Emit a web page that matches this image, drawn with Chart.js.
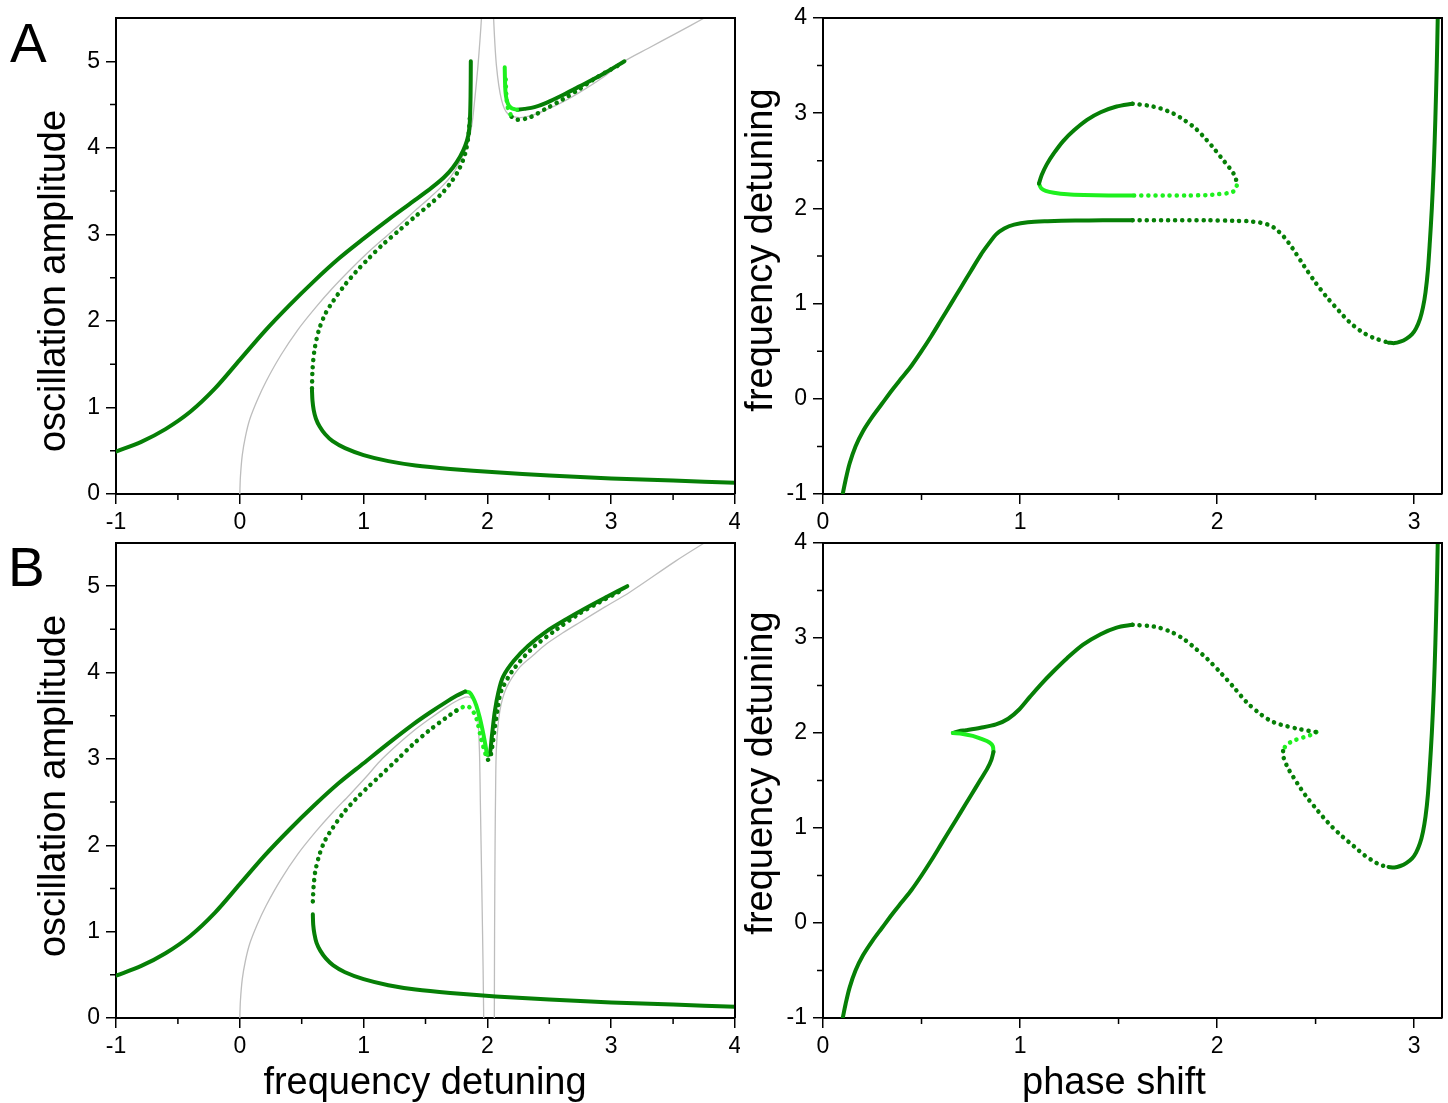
<!DOCTYPE html>
<html><head><meta charset="utf-8">
<script src="https://cdn.jsdelivr.net/npm/chart.js@4.4.1/dist/chart.umd.min.js"></script>
<style>
body{margin:0;background:#fff;width:1448px;height:1103px;position:relative;overflow:hidden;font-family:"Liberation Sans",Arial,sans-serif;}
canvas{position:absolute;}
.t{position:absolute;white-space:nowrap;color:#000;line-height:1;font-family:"Liberation Sans",Arial,sans-serif;}
.rot{transform:translate(-50%,-50%) rotate(-90deg);}
.ctr{transform:translateX(-50%);}
</style></head><body>
<canvas id="cAL" width="740" height="540" style="left:0;top:0;width:740px;height:540px"></canvas>
<canvas id="cAR" width="708" height="540" style="left:740px;top:0;width:708px;height:540px"></canvas>
<canvas id="cBL" width="740" height="583" style="left:0;top:520px;width:740px;height:583px"></canvas>
<canvas id="cBR" width="708" height="583" style="left:740px;top:520px;width:708px;height:583px"></canvas>
<div class="t" style="left:10px;top:16px;font-size:55px">A</div>
<div class="t" style="left:8px;top:540px;font-size:55px">B</div>
<div class="t rot" style="left:52px;top:281px;font-size:38px">oscillation amplitude</div>
<div class="t rot" style="left:52px;top:786px;font-size:38px">oscillation amplitude</div>
<div class="t rot" style="left:759px;top:250px;font-size:38px">frequency detuning</div>
<div class="t rot" style="left:759px;top:773px;font-size:38px">frequency detuning</div>
<div class="t ctr" style="left:425px;top:1062px;font-size:38px">frequency detuning</div>
<div class="t ctr" style="left:1114px;top:1062px;font-size:38px">phase shift</div>
<script>
// ---------- tick values ----------
const xRangeLeft = [-1, 4];
const yRangeLeft = [0, 5.5];
const xRangeRight = [0, Math.PI];
const yRangeRight = [-1, 4];
const xMinorLeft = [-0.5, 0.5, 1.5, 2.5, 3.5];
const yMinorLeft = [0.5, 1.5, 2.5, 3.5, 4.5];
const xMinorRight = [0.5, 1.5, 2.5];
const yMinorRight = [-0.5, 0.5, 1.5, 2.5, 3.5];

// ---------- panel A, left: amplitude vs detuning ----------
const aLeftGrayL = [[0,0],[0.005,0.2],[0.02,0.45],[0.045,0.66],[0.08,0.86],[0.14,1.08],[0.212,1.3],[0.33,1.6],[0.47,1.9],[0.615,2.16],[0.75,2.38],[0.884,2.58],[1.02,2.77],[1.153,2.94],[1.29,3.11],[1.42,3.28],[1.54,3.43],[1.637,3.56],[1.71,3.68],[1.771,3.82],[1.82,3.97],[1.852,4.10],[1.878,4.3],[1.898,4.56],[1.924,4.95],[1.952,5.5],[1.96,5.8]];
const aLeftGrayR = [[2.045,5.8],[2.05,5.5],[2.073,4.95],[2.113,4.56],[2.166,4.39],[2.26,4.35],[2.37,4.38],[2.476,4.44],[2.61,4.53],[2.745,4.64],[2.92,4.8],[3.107,5.0],[3.3,5.15],[3.52,5.32],[3.752,5.5],[3.8,5.54]];
const aLeftUpper = [[-1,0.49],[-0.8,0.6],[-0.6,0.75],[-0.4,0.95],[-0.2,1.22],[0,1.55],[0.2,1.88],[0.4,2.18],[0.6,2.46],[0.8,2.72],[1.0,2.95],[1.2,3.17],[1.4,3.38],[1.55,3.54],[1.65,3.66],[1.72,3.77],[1.78,3.90],[1.82,4.02],[1.845,4.14],[1.858,4.3],[1.864,4.6],[1.866,5.0]];
const aLeftUnstable = [[0.583,1.22],[0.588,1.45],[0.605,1.68],[0.64,1.9],[0.69,2.08],[0.75,2.22],[0.84,2.4],[0.94,2.57],[1.04,2.72],[1.153,2.88],[1.29,3.05],[1.42,3.21],[1.53,3.34],[1.637,3.48],[1.71,3.61],[1.771,3.75],[1.82,3.93],[1.848,4.15],[1.86,4.4]];
const aLeftLower = [[0.583,1.20],[0.587,1.08],[0.597,0.97],[0.615,0.87],[0.645,0.78],[0.69,0.69],[0.75,0.61],[0.85,0.53],[1.0,0.45],[1.2,0.38],[1.42,0.33],[1.7,0.29],[2.067,0.25],[2.5,0.215],[3.0,0.18],[3.5,0.155],[4.0,0.13]];
const aLeftRightLight = [[2.14,4.93],[2.142,4.78],[2.146,4.65],[2.155,4.56],[2.172,4.49],[2.2,4.455],[2.24,4.44]];
const aLeftRightDark = [[2.24,4.44],[2.3,4.45],[2.38,4.47],[2.476,4.52],[2.61,4.61],[2.745,4.71],[2.93,4.85],[3.107,5.0]];
const aLeftRightLightDots = [[2.148,4.79],[2.152,4.62],[2.165,4.46],[2.195,4.36]];
const aLeftRightDots = [[2.195,4.36],[2.24,4.325],[2.34,4.35],[2.47,4.45],[2.61,4.56],[2.745,4.68],[2.879,4.81],[3.093,4.98]];

// ---------- panel B, left ----------
const bLeftGrayL = [[0,0],[0.005,0.2],[0.02,0.45],[0.045,0.66],[0.08,0.86],[0.14,1.08],[0.212,1.3],[0.33,1.6],[0.47,1.9],[0.615,2.16],[0.75,2.38],[0.884,2.58],[1.02,2.79],[1.13,2.97],[1.27,3.16],[1.40,3.32],[1.54,3.47],[1.669,3.60],[1.75,3.67],[1.82,3.715],[1.865,3.71],[1.895,3.66],[1.913,3.57],[1.924,3.45],[1.933,3.2],[1.938,2.97],[1.943,2.51],[1.955,1.5],[1.965,0.6],[1.97,0]];
const bLeftGrayR = [[2.056,0],[2.058,1.0],[2.062,2.0],[2.066,2.6],[2.073,3.13],[2.10,3.55],[2.153,3.82],[2.26,4.06],[2.37,4.2],[2.476,4.33],[2.61,4.46],[2.745,4.58],[2.95,4.76],[3.15,4.93],[3.52,5.29],[3.752,5.5],[3.8,5.54]];
const bLeftUpper = [[-1,0.49],[-0.8,0.6],[-0.6,0.75],[-0.4,0.95],[-0.2,1.22],[0,1.55],[0.2,1.88],[0.4,2.18],[0.6,2.46],[0.8,2.72],[1.0,2.95],[1.2,3.18],[1.40,3.40],[1.54,3.54],[1.669,3.66],[1.75,3.73],[1.82,3.78]];
const bLeftLight = [[1.82,3.78],[1.855,3.77],[1.884,3.71],[1.91,3.62],[1.938,3.48],[1.96,3.34],[1.978,3.21],[1.997,3.05]];
const bLeftRightDark = [[1.997,3.05],[2.018,3.05],[2.035,3.25],[2.06,3.55],[2.09,3.78],[2.126,3.95],[2.21,4.13],[2.33,4.31],[2.48,4.48],[2.64,4.62],[2.80,4.75],[2.97,4.88],[3.13,5.0]];
const bLeftUnstable = [[0.59,1.35],[0.596,1.52],[0.61,1.70],[0.645,1.9],[0.69,2.06],[0.75,2.2],[0.84,2.38],[0.94,2.54],[1.04,2.68],[1.13,2.8],[1.27,2.99],[1.40,3.17],[1.53,3.33],[1.669,3.48],[1.75,3.56]];
const bLeftLightDots = [[1.75,3.56],[1.8,3.6],[1.84,3.61],[1.875,3.57],[1.911,3.47],[1.95,3.23],[1.986,3.05],[2.005,2.99]];
const bLeftRightDots = [[2.005,2.99],[2.02,3.0],[2.04,3.15],[2.06,3.36],[2.085,3.6],[2.11,3.78],[2.207,4.03],[2.37,4.29],[2.55,4.49],[2.74,4.68],[2.9,4.81],[3.07,4.94]];
const bLeftLower = [[0.59,1.20],[0.593,1.08],[0.603,0.97],[0.62,0.87],[0.65,0.78],[0.695,0.69],[0.755,0.61],[0.85,0.53],[1.0,0.45],[1.2,0.38],[1.42,0.33],[1.7,0.29],[2.067,0.25],[2.5,0.215],[3.0,0.18],[3.5,0.155],[4.0,0.13]];

// ---------- panel A, right: detuning vs phase shift ----------
const aRightMain = [[0.1,-1],[0.115,-0.85],[0.135,-0.68],[0.165,-0.5],[0.203,-0.34],[0.25,-0.19],[0.3,-0.05],[0.35,0.09],[0.4,0.22],[0.45,0.35],[0.5,0.5],[0.55,0.66],[0.6,0.83],[0.65,1.0],[0.7,1.17],[0.75,1.34],[0.8,1.51],[0.845,1.64],[0.88,1.73],[0.92,1.79],[0.97,1.83],[1.04,1.855],[1.14,1.865],[1.28,1.872],[1.42,1.875],[1.571,1.875]];
const aRightMainDots = [[1.571,1.875],[1.75,1.875],[1.95,1.875],[2.085,1.87],[2.16,1.865],[2.22,1.85],[2.27,1.82],[2.30,1.78],[2.34,1.70],[2.38,1.59],[2.44,1.40],[2.5,1.22],[2.56,1.06],[2.62,0.92],[2.67,0.81],[2.73,0.71],[2.794,0.64],[2.87,0.59]];
const aRightRise = [[2.87,0.59],[2.9,0.585],[2.93,0.6],[2.96,0.63],[2.99,0.68],[3.01,0.74],[3.03,0.84],[3.045,0.96],[3.058,1.12],[3.07,1.35],[3.08,1.65],[3.09,2.0],[3.1,2.45],[3.108,2.95],[3.115,3.5],[3.12,4.0],[3.122,4.3]];
const aRightLoop = [[1.096,2.26],[1.11,2.35],[1.135,2.46],[1.172,2.58],[1.22,2.71],[1.274,2.82],[1.34,2.93],[1.409,3.01],[1.49,3.07],[1.571,3.10]];
const aRightLoopDots = [[1.571,3.10],[1.65,3.08],[1.713,3.05],[1.775,3.0],[1.832,2.93],[1.885,2.85],[1.933,2.75],[1.98,2.64],[2.026,2.52],[2.065,2.42],[2.093,2.33],[2.10,2.24]];
const aRightLoopLightDots = [[2.10,2.24],[2.09,2.19],[2.068,2.165],[2.0,2.148],[1.95,2.14],[1.85,2.135],[1.747,2.135],[1.571,2.135]];
const aRightLoopLight = [[1.571,2.135],[1.45,2.135],[1.324,2.14],[1.24,2.148],[1.172,2.165],[1.13,2.185],[1.108,2.21],[1.096,2.26]];

// ---------- panel B, right ----------
const bRightMain = [[0.1,-1],[0.115,-0.85],[0.135,-0.68],[0.165,-0.5],[0.203,-0.34],[0.25,-0.19],[0.3,-0.05],[0.35,0.09],[0.4,0.22],[0.45,0.35],[0.5,0.5],[0.55,0.66],[0.6,0.83],[0.65,1.0],[0.7,1.17],[0.75,1.34],[0.8,1.51],[0.835,1.63],[0.855,1.72],[0.865,1.80]];
const bRightLight = [[0.865,1.80],[0.862,1.86],[0.845,1.90],[0.80,1.94],[0.76,1.97],[0.71,1.99],[0.659,2.00]];
const bRightUpper = [[0.659,2.00],[0.69,2.02],[0.726,2.03],[0.80,2.055],[0.878,2.09],[0.94,2.15],[0.997,2.25],[1.05,2.38],[1.105,2.51],[1.17,2.65],[1.24,2.79],[1.32,2.93],[1.409,3.04],[1.49,3.11],[1.571,3.14]];
const bRightDots = [[1.571,3.14],[1.68,3.12],[1.76,3.07],[1.83,2.99],[1.89,2.89],[1.95,2.78],[2.02,2.63],[2.085,2.48],[2.152,2.32],[2.22,2.20],[2.27,2.13],[2.32,2.09],[2.42,2.04],[2.504,2.01]];
const bRightLightDots = [[2.504,2.01],[2.49,1.99],[2.44,1.955],[2.389,1.92],[2.35,1.87],[2.335,1.81]];
const bRightDots2 = [[2.335,1.81],[2.338,1.74],[2.36,1.63],[2.389,1.53],[2.42,1.43],[2.457,1.32],[2.50,1.21],[2.54,1.11],[2.58,1.02],[2.625,0.93],[2.67,0.85],[2.71,0.78],[2.75,0.71],[2.794,0.65],[2.83,0.61],[2.87,0.59]];
const bRightRise = [[2.87,0.59],[2.9,0.585],[2.93,0.6],[2.96,0.63],[2.99,0.68],[3.01,0.74],[3.03,0.84],[3.045,0.96],[3.058,1.12],[3.07,1.35],[3.08,1.65],[3.09,2.0],[3.1,2.45],[3.108,2.95],[3.115,3.5],[3.12,4.0],[3.122,4.3]];

// ---------- styles ----------
const DARK = '#067f06';
const LIGHT = '#1ef01e';
const GRAY = '#bdbdbd';
const toXY = a => a.map(p => ({x: p[0], y: p[1]}));
function solid(d, c){ return {data: toXY(d), showLine: true, borderColor: c, backgroundColor: c, borderWidth: 4, pointRadius: 0, tension: 0.3, borderCapStyle: 'round', borderJoinStyle: 'round', order: 1}; }
function dots(d, c){ return {data: toXY(d), showLine: true, borderColor: c, backgroundColor: c, borderWidth: 4.5, borderDash: [0.1, 7], borderCapStyle: 'round', pointRadius: 0, tension: 0.3, order: 2}; }
function thin(d){ return {data: toXY(d), showLine: true, borderColor: GRAY, backgroundColor: GRAY, borderWidth: 1.3, pointRadius: 0, tension: 0.3, order: 3}; }

Chart.defaults.font.family = '"Liberation Sans", Arial, sans-serif';
Chart.defaults.color = '#000';

const frameAndMinor = {
  id: 'frameAndMinor',
  afterDraw(chart, args, opts){
    const ctx = chart.ctx, a = chart.chartArea, xs = chart.scales.x, ys = chart.scales.y;
    ctx.save();
    ctx.strokeStyle = '#000';
    ctx.lineWidth = 1.5;
    ctx.beginPath();
    for (const v of opts.xMinor){ const px = xs.getPixelForValue(v); ctx.moveTo(px, a.bottom); ctx.lineTo(px, a.bottom + 6); }
    for (const v of opts.yMinor){ const py = ys.getPixelForValue(v); ctx.moveTo(a.left, py); ctx.lineTo(a.left - 6, py); }
    ctx.stroke();
    ctx.lineWidth = 2;
    ctx.beginPath();
    ctx.moveTo(a.left, a.top); ctx.lineTo(a.right, a.top); ctx.lineTo(a.right, a.bottom);
    ctx.stroke();
    ctx.restore();
  }
};

function makeChart(id, datasets, xr, yr, xMinor, yMinor, dim){
  return new Chart(document.getElementById(id), {
    type: 'scatter',
    data: {datasets},
    options: {
      responsive: false, animation: false,
      layout: {padding: {left: 0, right: dim.pr, top: dim.pt, bottom: 0}},
      plugins: {legend: {display: false}, tooltip: {enabled: false}, frameAndMinor: {xMinor, yMinor}},
      scales: {
        x: {type: 'linear', min: xr[0], max: xr[1],
          ticks: {stepSize: 1, includeBounds: false, padding: 5, font: {size: 23}, color: '#000', maxRotation: 0, autoSkip: false},
          grid: {drawOnChartArea: false, drawTicks: true, tickLength: 10, color: '#000', lineWidth: 1.5},
          border: {display: true, color: '#000', width: 2},
          afterFit(s){ s.height = dim.xh; s.paddingLeft = 0; s.paddingRight = 0; }},
        y: {type: 'linear', min: yr[0], max: yr[1],
          ticks: {stepSize: 1, includeBounds: false, padding: 6, font: {size: 23}, color: '#000', autoSkip: false},
          grid: {drawOnChartArea: false, drawTicks: true, tickLength: 10, color: '#000', lineWidth: 1.5},
          border: {display: true, color: '#000', width: 2},
          afterFit(s){ s.width = dim.yw; s.paddingTop = 0; s.paddingBottom = 0; }}
      }
    },
    plugins: [frameAndMinor]
  });
}

makeChart('cAL', [
  solid(aLeftUpper, DARK), solid(aLeftLower, DARK), solid(aLeftRightLight, LIGHT), solid(aLeftRightDark, DARK),
  dots(aLeftUnstable, DARK), dots(aLeftRightLightDots, LIGHT), dots(aLeftRightDots, DARK),
  thin(aLeftGrayL), thin(aLeftGrayR)
], xRangeLeft, yRangeLeft, xMinorLeft, yMinorLeft, {pr: 5, pt: 18, xh: 46, yw: 116});

makeChart('cBL', [
  solid(bLeftUpper, DARK), solid(bLeftLight, LIGHT), solid(bLeftRightDark, DARK), solid(bLeftLower, DARK),
  dots(bLeftUnstable, DARK), dots(bLeftLightDots, LIGHT), dots(bLeftRightDots, DARK),
  thin(bLeftGrayL), thin(bLeftGrayR)
], xRangeLeft, yRangeLeft, xMinorLeft, yMinorLeft, {pr: 5, pt: 23, xh: 85, yw: 116});

makeChart('cAR', [
  solid(aRightMain, DARK), solid(aRightRise, DARK), solid(aRightLoop, DARK), solid(aRightLoopLight, LIGHT),
  dots(aRightMainDots, DARK), dots(aRightLoopDots, DARK), dots(aRightLoopLightDots, LIGHT)
], xRangeRight, yRangeRight, xMinorRight, yMinorRight, {pr: 6, pt: 18, xh: 46, yw: 83});

makeChart('cBR', [
  solid(bRightMain, DARK), solid(bRightLight, LIGHT), solid(bRightUpper, DARK), solid(bRightRise, DARK),
  dots(bRightDots, DARK), dots(bRightLightDots, LIGHT), dots(bRightDots2, DARK)
], xRangeRight, yRangeRight, xMinorRight, yMinorRight, {pr: 6, pt: 23, xh: 85, yw: 83});
</script>
</body></html>
